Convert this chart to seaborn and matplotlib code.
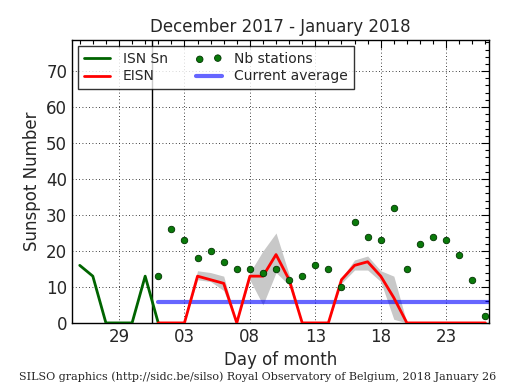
import numpy as np
import pandas as pd
import matplotlib
matplotlib.use("Agg")
import matplotlib.pyplot as plt
import matplotlib.dates as mdates
from matplotlib.ticker import MultipleLocator
import seaborn as sns

# Data
isn_dates = pd.date_range("2017-12-26", "2018-01-01", freq="D")
isn_values = [16, 13, 0, 0, 0, 13, 0]

jan_dates = pd.date_range("2018-01-01", "2018-01-26", freq="D")
eisn_values = [0, 0, 0, 13, 12, 11, 0, 13, 13, 19, 12, 0, 0,
               0, 12, 16, 17, 13, 7, 0, 0, 0, 0, 0, 0, 0]
eisn_low = [0, 0, 0, 12, 11.5, 9, 0, 12, 5, 14, 10.5, 0, 0,
            0, 11, 14.7, 14.7, 11.5, 1, 0, 0, 0, 0, 0, 0, 0]
eisn_high = [0, 0, 0, 14.5, 14, 13, 0, 14, 20, 25, 13.5, 0, 0,
             0, 12.5, 17.5, 18.6, 14.5, 13, 0, 0, 0, 0, 0, 0, 0]
nb_stations = [13, 26, 23, 18, 20, 17, 15, 15, 14, 15, 12, 13, 16,
               15, 10, 28, 24, 23, 32, 15, 22, 24, 23, 19, 12, 2]
current_average = 5.8
avg_dates = pd.to_datetime(["2018-01-01", "2018-01-28"])

tick_dates = pd.to_datetime(["2017-12-29", "2018-01-03", "2018-01-08",
                             "2018-01-13", "2018-01-18", "2018-01-23"])

isn_df = pd.DataFrame({"date": isn_dates, "value": isn_values})
eisn_df = pd.DataFrame({"date": jan_dates, "value": eisn_values,
                        "low": eisn_low, "high": eisn_high,
                        "stations": nb_stations})
avg_df = pd.DataFrame({"date": avg_dates, "value": [current_average] * 2})

sns.set_style("white")
plt.rcParams["font.family"] = ["DejaVu Sans"]
plt.rcParams["xtick.direction"] = "in"
plt.rcParams["ytick.direction"] = "in"

fig = plt.figure(figsize=(5.15, 3.9), dpi=100)
ax = fig.add_axes([0.140, 0.172, 0.810, 0.725])

ax.fill_between(eisn_df["date"], eisn_df["low"], eisn_df["high"],
                color="#c8c8c8", linewidth=0, zorder=1)
sns.lineplot(data=isn_df, x="date", y="value", ax=ax, color="#006400",
             linewidth=2, label="ISN Sn", zorder=3)
sns.lineplot(data=eisn_df, x="date", y="value", ax=ax, color="red",
             linewidth=2, label="EISN", zorder=3)
sns.scatterplot(data=eisn_df, x="date", y="stations", ax=ax, color="#0a7a0a",
                edgecolor="#003300", linewidth=0.6, s=22, label="Nb stations",
                zorder=4)
sns.lineplot(data=avg_df, x="date", y="value", ax=ax, color="blue",
             alpha=0.6, linewidth=3, label="Current average", zorder=2)

ax.axvline(pd.Timestamp("2017-12-31 12:00"), color="black", linewidth=1,
           zorder=2)

ax.set_xlim(pd.Timestamp("2017-12-25 10:00"), pd.Timestamp("2018-01-26 07:00"))
ax.set_ylim(0, 78.6)
ax.set_xticks(tick_dates)
ax.xaxis.set_major_formatter(mdates.DateFormatter("%d"))
ax.xaxis.set_minor_locator(mdates.DayLocator())
ax.yaxis.set_major_locator(MultipleLocator(10))
ax.yaxis.set_minor_locator(MultipleLocator(2))
ax.tick_params(which="both", top=True, right=True, labelsize=12, color="black")
ax.tick_params(which="major", length=6, width=0.8)
ax.tick_params(which="minor", length=3, width=0.8)
ax.grid(True, which="major", color="black", linestyle=(0, (1, 3)),
        linewidth=0.6)
for s in ax.spines.values():
    s.set_color("black")
    s.set_linewidth(1)

ax.set_title("December 2017 - January 2018", fontsize=12)
ax.set_xlabel("Day of month", fontsize=12)
ax.set_ylabel("Sunspot Number", fontsize=12)

handles, labels = ax.get_legend_handles_labels()
leg = ax.legend(handles, labels, loc="upper left", ncol=2, fontsize=10,
                frameon=True, fancybox=False, edgecolor="black",
                borderaxespad=0.45, handlelength=1.9, handletextpad=0.9,
                columnspacing=2.0, labelspacing=0.25, scatterpoints=2)
leg.get_frame().set_linewidth(1)

fig.text(0.5, 0.02, "SILSO graphics (http://sidc.be/silso) Royal Observatory of Belgium, 2018 January 26",
         ha="center", va="bottom", fontsize=8, family="DejaVu Serif")

fig.savefig("out.png", dpi=100)
